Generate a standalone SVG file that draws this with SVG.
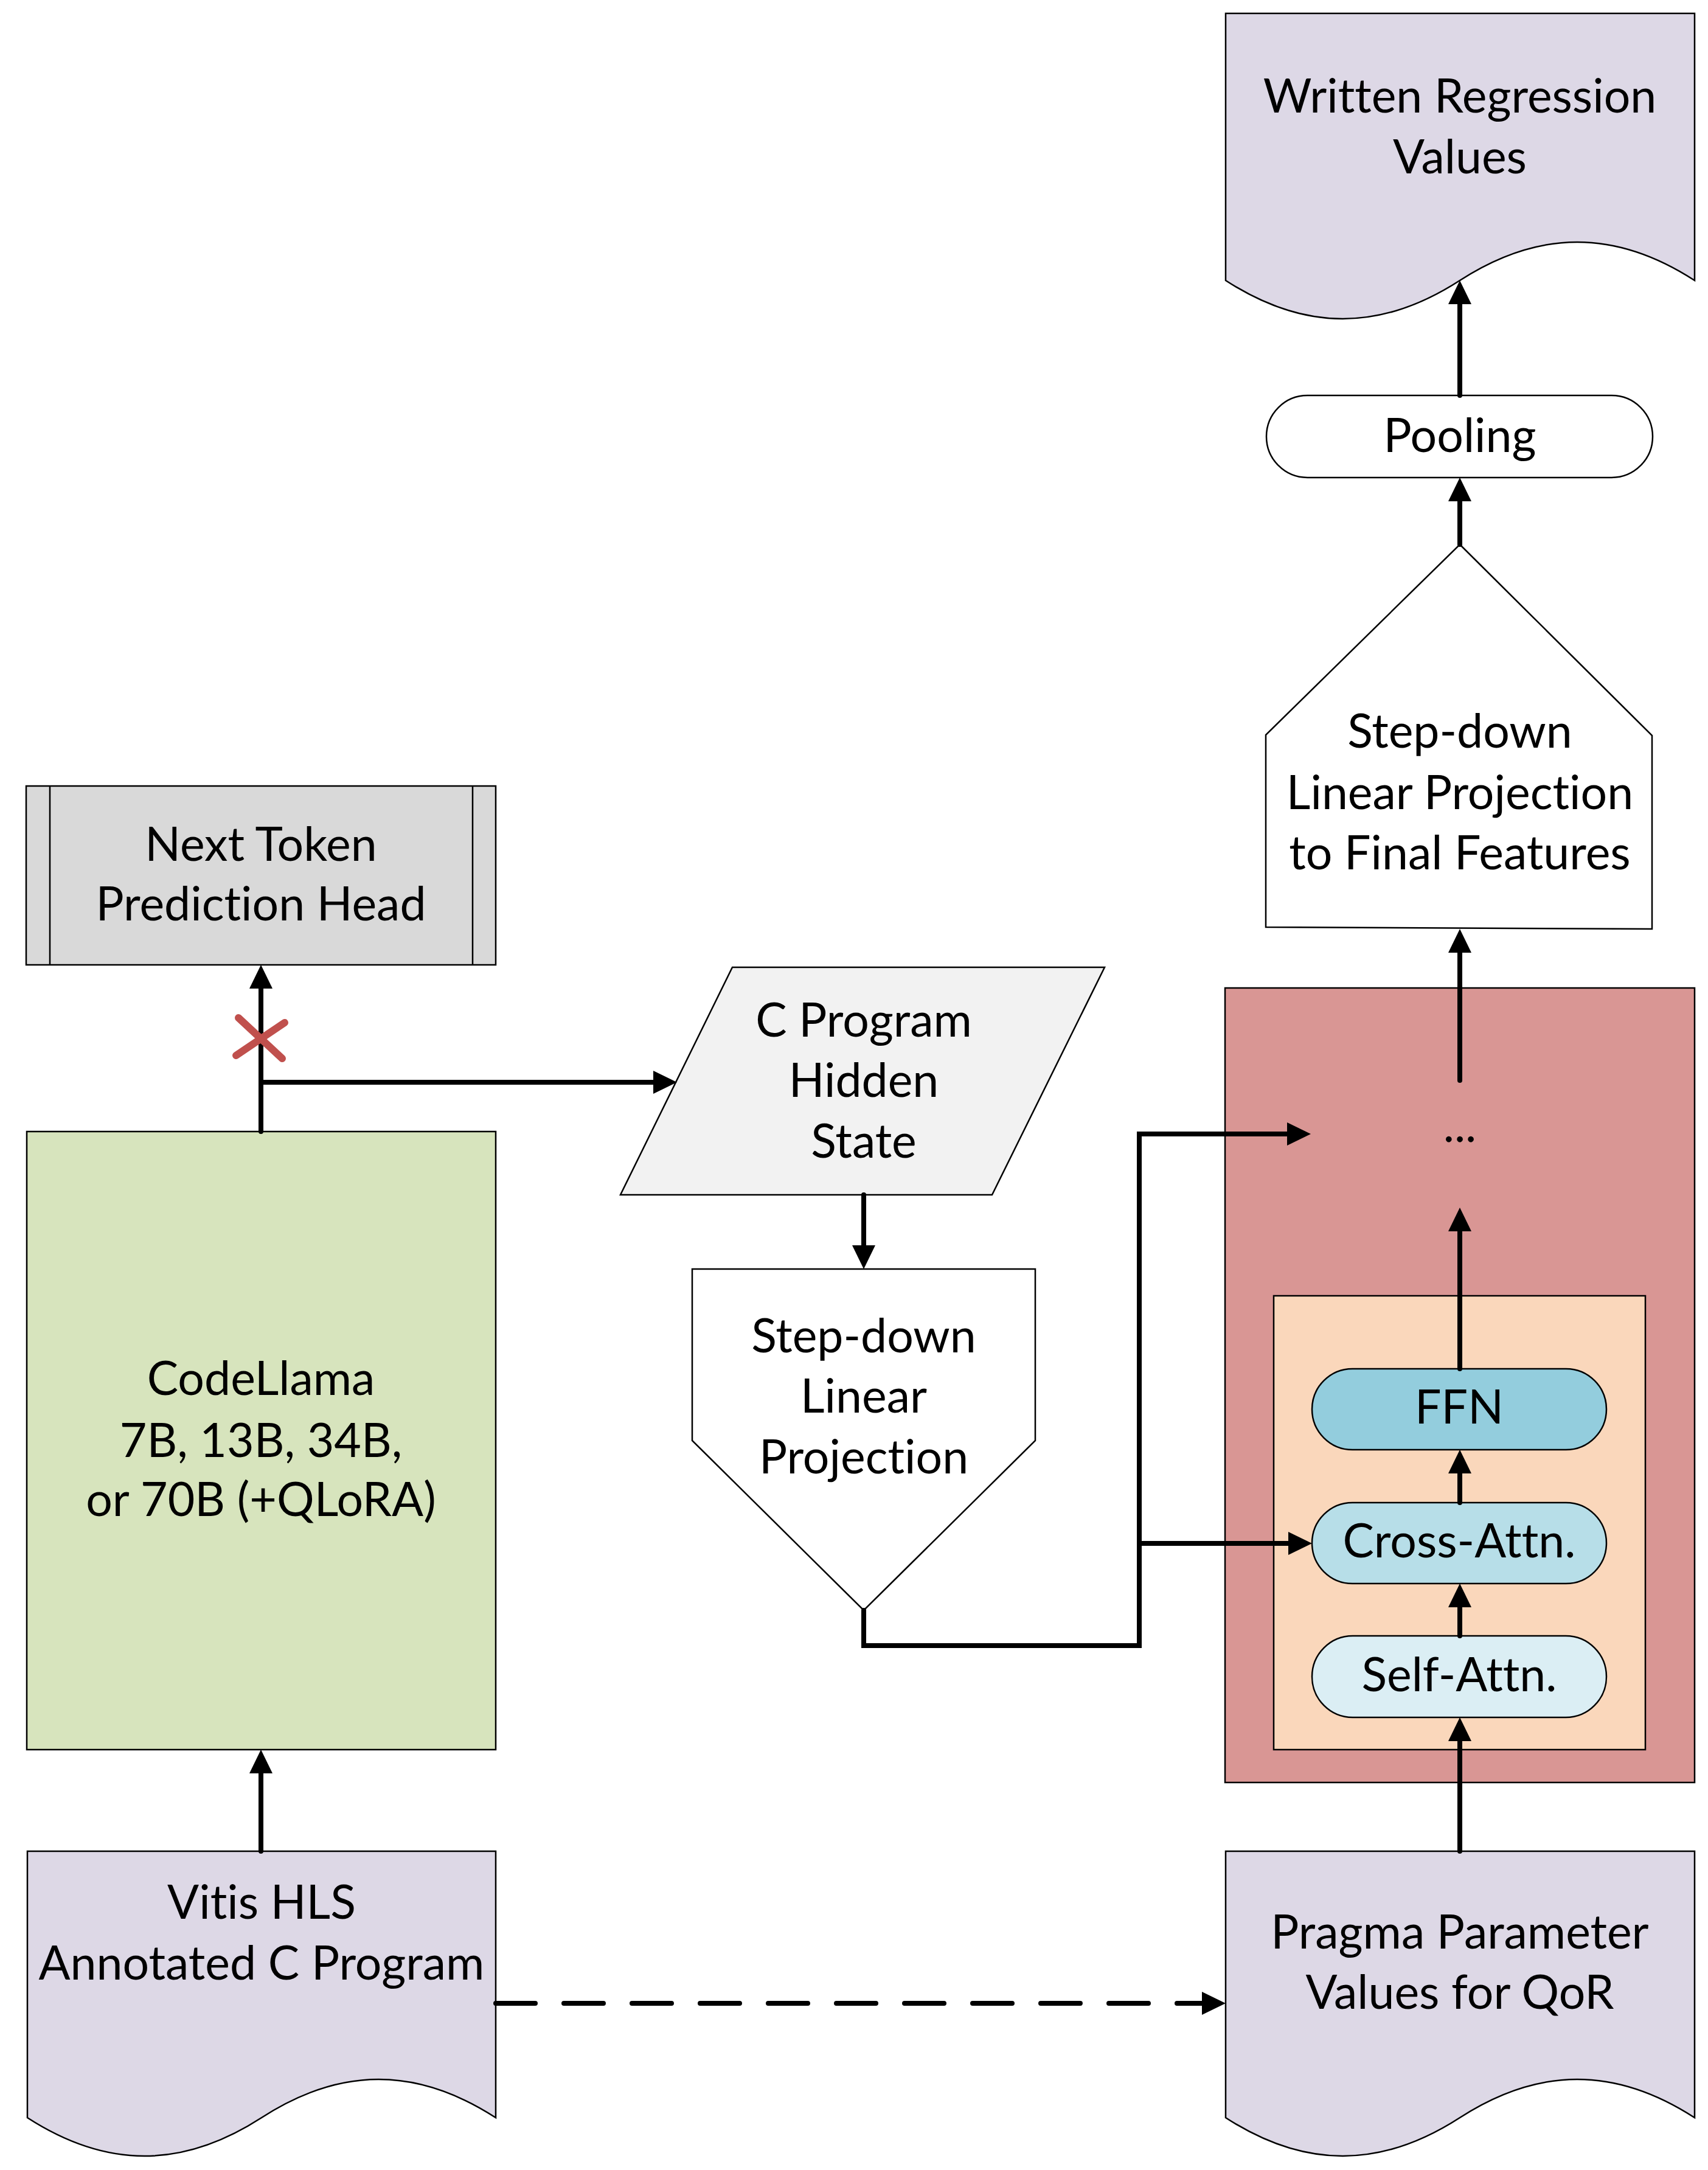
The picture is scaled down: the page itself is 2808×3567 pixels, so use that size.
<svg xmlns="http://www.w3.org/2000/svg" width="2808" height="3567" viewBox="0 0 2808 3567">
<style>
.s{stroke:#000;stroke-width:2.5;stroke-linejoin:miter}
.t{font-family:Lato,"Liberation Sans",sans-serif;font-size:77px;fill:#000;text-anchor:middle;font-variant-ligatures:none;font-feature-settings:"liga" 0}
.c{fill:none;stroke:#000;stroke-width:8;stroke-linecap:round;stroke-linejoin:miter}
.doc{fill:#DDD8E6}
</style>
<defs>
<marker id="ah" markerUnits="userSpaceOnUse" markerWidth="40" markerHeight="40" viewBox="0 -20 40 40" refX="0" refY="0" orient="auto" overflow="visible">
<path d="M0,-19 L39,0 L0,19 Z" fill="#000"/>
</marker>
</defs>
<rect width="2808" height="3567" fill="#fff"/>

<g id="written">
<path class="s doc" d="M2015,22 H2786 V461 C2656,377 2530,377 2400,461 C2270,545 2145,545 2015,461 Z"/>
<text class="t" x="2400" y="185">Written Regression</text>
<text class="t" x="2400" y="285">Values</text>
</g>

<g id="pooling">
<rect class="s" x="2082" y="650" width="635" height="135" rx="67.5" fill="#fff"/>
<text class="t" x="2400" y="743">Pooling</text>
</g>

<g id="proj_final">
<polygon class="s" points="2400,895 2716,1209 2716,1527 2081,1524 2081,1208" fill="#fff"/>
<text class="t" x="2400" y="1229">Step-down</text>
<text class="t" x="2400" y="1330">Linear Projection</text>
<text class="t" x="2400" y="1429">to Final Features</text>
</g>

<g id="decoder">
<rect class="s" x="2014" y="1624" width="772" height="1306" fill="#D99694"/>
<text class="t" x="2400" y="1877">...</text>
</g>

<g id="layer">
<rect class="s" x="2094" y="2130" width="611" height="746" fill="#FAD7BB"/>
</g>

<g id="ffn">
<rect class="s" x="2157" y="2250" width="484" height="133" rx="66.5" fill="#93CDDD"/>
<text class="t" x="2399" y="2340">FFN</text>
</g>

<g id="cross">
<rect class="s" x="2157" y="2470" width="484" height="133" rx="66.5" fill="#B7DEE8"/>
<text class="t" x="2399" y="2560">Cross-Attn.</text>
</g>

<g id="self">
<rect class="s" x="2157" y="2689" width="484" height="134" rx="67" fill="#DBEEF4"/>
<text class="t" x="2399" y="2780">Self-Attn.</text>
</g>

<g id="pragma">
<path class="s doc" d="M2015,3043 H2786 V3481 C2656,3397 2530,3397 2400,3481 C2270,3565 2145,3565 2015,3481 Z"/>
<text class="t" x="2400" y="3203">Pragma Parameter</text>
<text class="t" x="2400" y="3302">Values for QoR</text>
</g>

<g id="vitis">
<path class="s doc" d="M45,3043 H815 V3481 C685,3397 560,3397 430,3481 C300,3565 175,3565 45,3481 Z"/>
<text class="t" x="430" y="3154">Vitis HLS</text>
<text class="t" x="430" y="3254">Annotated C Program</text>
</g>

<g id="codellama">
<rect class="s" x="44" y="1860" width="771" height="1016" fill="#D7E4BD"/>
<text class="t" x="429" y="2293">CodeLlama</text>
<text class="t" x="429" y="2395">7B, 13B, 34B,</text>
<text class="t" x="429" y="2492">or 70B (+QLoRA)</text>
</g>

<g id="nexttoken">
<rect class="s" x="43" y="1292" width="772" height="294" fill="#D9D9D9"/>
<line class="s" x1="82" y1="1292" x2="82" y2="1586"/>
<line class="s" x1="777" y1="1292" x2="777" y2="1586"/>
<text class="t" x="429" y="1415">Next Token</text>
<text class="t" x="429" y="1513">Prediction Head</text>
</g>

<g id="hidden">
<polygon class="s" points="1204,1590 1816,1590 1631,1964 1020,1964" fill="#F2F2F2"/>
<text class="t" x="1420" y="1704">C Program</text>
<text class="t" x="1420" y="1803">Hidden</text>
<text class="t" x="1420" y="1903">State</text>
</g>

<g id="proj_hidden">
<polygon class="s" points="1138,2086 1702,2086 1702,2368 1420,2647 1138,2368" fill="#fff"/>
<text class="t" x="1420" y="2223">Step-down</text>
<text class="t" x="1420" y="2322">Linear</text>
<text class="t" x="1420" y="2422">Projection</text>
</g>

<g id="connectors">
<path class="c" d="M429,3043 V2915" marker-end="url(#ah)"/>
<path class="c" d="M429,1860 V1625" marker-end="url(#ah)"/>
<path class="c" d="M429,1779 H1074" marker-end="url(#ah)"/>
<path class="c" d="M1420,1964 V2047" marker-end="url(#ah)"/>
<path class="c" d="M1420,2647 V2705 H1873 V1864 H2116" marker-end="url(#ah)"/>
<path class="c" d="M1873,2537 H2118" marker-end="url(#ah)"/>
<path class="c" d="M2400,3043 V2862" marker-end="url(#ah)"/>
<path class="c" d="M2400,2689 V2642" marker-end="url(#ah)"/>
<path class="c" d="M2400,2470 V2422" marker-end="url(#ah)"/>
<path class="c" d="M2400,2250 V2024" marker-end="url(#ah)"/>
<path class="c" d="M2400,1776 V1566" marker-end="url(#ah)"/>
<path class="c" d="M2400,895 V824" marker-end="url(#ah)"/>
<path class="c" d="M2400,650 V500" marker-end="url(#ah)"/>
<path class="c" d="M815,3293 H1976" stroke-width="9" stroke-dasharray="65 47" marker-end="url(#ah)"/>
<g id="cross_mark" stroke="#C0504D" stroke-width="12" stroke-linecap="round">
<line x1="392" y1="1673" x2="464" y2="1740"/>
<line x1="468" y1="1681" x2="388" y2="1735"/>
</g>
</g>
</svg>
